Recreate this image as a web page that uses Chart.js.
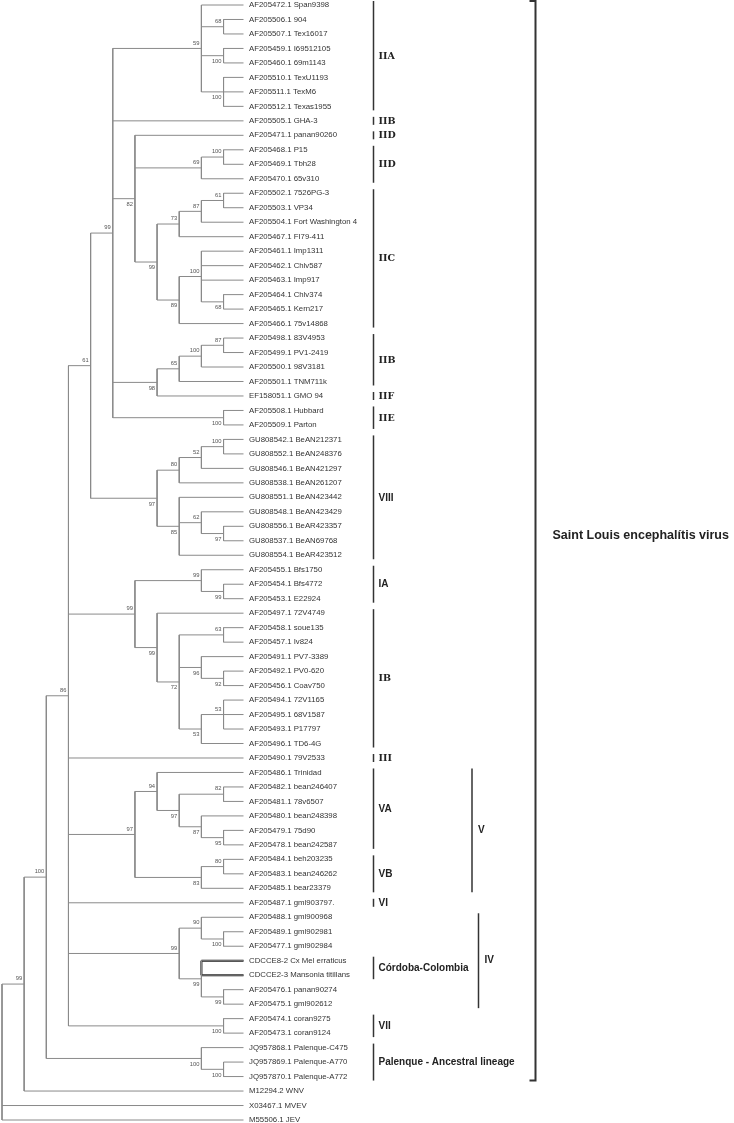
<!DOCTYPE html>
<html>
<head>
<meta charset="utf-8">
<script src="https://cdn.jsdelivr.net/npm/chart.js@4/dist/chart.umd.min.js"></script>
<style>
  body { margin: 0; background: #fff; }
  #wrap { width: 734px; height: 1123px; position: relative; }
</style>
</head>
<body>
<div id="wrap"><canvas id="tree"></canvas></div>
<script>
// leaves, top to bottom
const leafNames = [
  'AF205472.1 Span9398','AF205506.1 904','AF205507.1 Tex16017','AF205459.1 I69512105',
  'AF205460.1 69m1143','AF205510.1 TexU1193','AF205511.1 TexM6','AF205512.1 Texas1955',
  'AF205505.1 GHA-3','AF205471.1 panan90260','AF205468.1 P15','AF205469.1 Tbh28',
  'AF205470.1 65v310','AF205502.1 7526PG-3','AF205503.1 VP34','AF205504.1 Fort Washington 4',
  'AF205467.1 FI79-411','AF205461.1 Imp1311','AF205462.1 Chlv587','AF205463.1 Imp917',
  'AF205464.1 Chlv374','AF205465.1 Kern217','AF205466.1 75v14868','AF205498.1 83V4953',
  'AF205499.1 PV1-2419','AF205500.1 98V3181','AF205501.1 TNM711k','EF158051.1 GMO 94',
  'AF205508.1 Hubbard','AF205509.1 Parton','GU808542.1 BeAN212371','GU808552.1 BeAN248376',
  'GU808546.1 BeAN421297','GU808538.1 BeAN261207','GU808551.1 BeAN423442','GU808548.1 BeAN423429',
  'GU808556.1 BeAR423357','GU808537.1 BeAN69768','GU808554.1 BeAR423512','AF205455.1 Bfs1750',
  'AF205454.1 Bfs4772','AF205453.1 E22924','AF205497.1 72V4749','AF205458.1 soue135',
  'AF205457.1 Iv824','AF205491.1 PV7-3389','AF205492.1 PV0-620','AF205456.1 Coav750',
  'AF205494.1 72V1165','AF205495.1 68V1587','AF205493.1 P17797','AF205496.1 TD6-4G',
  'AF205490.1 79V2533','AF205486.1 Trinidad','AF205482.1 bean246407','AF205481.1 78v6507',
  'AF205480.1 bean248398','AF205479.1 75d90','AF205478.1 bean242587','AF205484.1 beh203235',
  'AF205483.1 bean246262','AF205485.1 bear23379','AF205487.1 gml903797.','AF205488.1 gml900968',
  'AF205489.1 gml902981','AF205477.1 gml902984','CDCCE8-2 Cx Mel erraticus','CDCCE2-3 Mansonia titillans',
  'AF205476.1 panan90274','AF205475.1 gml902612','AF205474.1 coran9275','AF205473.1 coran9124',
  'JQ957868.1 Palenque-C475','JQ957869.1 Palenque-A770','JQ957870.1 Palenque-A772','M12294.2 WNV',
  'X03467.1 MVEV','M55506.1 JEV'
];
// internal node each leaf hangs from
const leafParent = [6,7,7,8,8,9,9,9,5,10, 12,12,11,16,16,15,14,18,18,18, 19,19,17,23,23,22,21,20,24,24,
  28,28,27,26,29,30,31,31,29,33, 34,34,35,37,37,38,39,39,41,41, 41,40,3,43,45,45,46,47,47,49,
  49,48,3,51,52,52,53,53,54,54, 55,55,56,57,57,1,0,0];
// internal nodes: parent, depth level (cladogram), bootstrap
const nodeParent = [-1,0,1,2,3,4,5,6,6,6, 5,10,11,10,13,14,15,13,17,18, 5,20,21,22,5,4,25,26,27,25,
  29,30,3,32,33,32,35,36,36,38, 36,40,3,42,43,44,44,46,42,48, 3,50,51,50,53,3,2,56];
const nodeLevel = [0,1,2,3,4,5,9,10,10,10, 6,9,10,7,8,9,10,8,9,10, 7,8,9,10,10,7,8,9,10,8,
  9,10,6,9,10,7,8,10,9,10, 9,10,6,7,8,10,9,10,9,10, 8,9,10,9,10,10,9,10];
const nodeSupport = [null,99,100,86,61,99,59,68,100,100, 82,69,100,99,73,87,61,89,100,68,
  98,65,100,87,100,97,80,52,100,85, 62,97,99,99,99,99,72,63,96,92,
  53,53,97,94,97,82,87,95,83,80, 99,90,100,99,99,100,100,100];
const TIP_LEVEL = 10.9;
const highlightLeaves = [66, 67];

// clade brackets
const cladeNames = ['IIA','IIB','IID','IID','IIC','IIB','IIF','IIE','VIII','IA','IB','III',
  'VA','VB','VI','Córdoba-Colombia','VII','Palenque - Ancestral lineage'];
const cladeFrom = [0,8,9,10,13,23,27,28,30,39,42,52,53,59,62,66,70,72];
const cladeTo   = [7,8,9,12,22,26,27,29,38,41,51,52,58,61,62,67,71,74];
const groupNames = ['V','IV'];
const groupFrom = [53,63];
const groupTo   = [61,69];
const speciesName = 'Saint Louis encephalítis virus';
const speciesFrom = 0, speciesTo = 74;

// label placement / styles
const supportSide = '-aaaaaaabb' + 'baabaaabab' + 'baaabbaaab' + 'abaabbbabb' + 'baaababbba' + 'aabbbbbb';
const cladeSerif = [1,1,1,1,1,1,1,1,0,0,1,1,0,0,0,0,0,0];

// ---- build tree geometry
const nodeY = [];
function childrenOf(n) {
  const out = [];
  leafParent.forEach((p, i) => { if (p === n) out.push({ x: TIP_LEVEL, y: i }); });
  nodeParent.forEach((p, j) => { if (p === n) out.push({ x: nodeLevel[j], y: yOf(j) }); });
  return out;
}
function yOf(n) {
  if (nodeY[n] === undefined) {
    const ys = childrenOf(n).map(c => c.y);
    nodeY[n] = (Math.min(...ys) + Math.max(...ys)) / 2;
  }
  return nodeY[n];
}
const branchPts = [];
function seg(arr, x1, y1, x2, y2) {
  arr.push({ x: x1, y: y1 }, { x: x2, y: y2 }, { x: null, y: null });
}
nodeParent.forEach((p, n) => {
  const ch = childrenOf(n);
  const ys = ch.map(c => c.y);
  seg(branchPts, nodeLevel[n], Math.min(...ys), nodeLevel[n], Math.max(...ys));
  ch.forEach(c => seg(branchPts, nodeLevel[n], c.y, c.x, c.y));
});
const boldPts = [];
const hlLevel = nodeLevel[leafParent[highlightLeaves[0]]];
seg(boldPts, hlLevel, Math.min(...highlightLeaves), hlLevel, Math.max(...highlightLeaves));
highlightLeaves.forEach(i => seg(boldPts, hlLevel, i, TIP_LEVEL, i));

const treeText = {
  id: 'treeText',
  afterDatasetsDraw(chart) {
    const { ctx, scales: { x, y } } = chart;
    const tipX = x.getPixelForValue(TIP_LEVEL);
    ctx.save();
    ctx.textBaseline = 'middle';

    // leaf names
    ctx.font = '7.8px "Liberation Sans", Arial, sans-serif';
    ctx.fillStyle = '#333';
    ctx.textAlign = 'left';
    leafNames.forEach((name, i) => ctx.fillText(name, tipX + 5.5, y.getPixelForValue(i)));

    // bootstrap values
    ctx.font = '5.8px "Liberation Sans", Arial, sans-serif';
    ctx.fillStyle = '#555';
    ctx.textAlign = 'right';
    nodeSupport.forEach((v, n) => {
      if (v === null) return;
      const px = x.getPixelForValue(nodeLevel[n]) - 2;
      const py = y.getPixelForValue(yOf(n)) + (supportSide[n] === 'a' ? -5.3 : 5.8);
      ctx.fillText(String(v), px, py);
    });

    // clade brackets
    ctx.strokeStyle = '#333';
    ctx.fillStyle = '#222';
    ctx.textAlign = 'left';
    function bar(bx, i0, i1, w) {
      ctx.lineWidth = w;
      ctx.beginPath();
      ctx.moveTo(bx, y.getPixelForValue(i0) - 4);
      ctx.lineTo(bx, y.getPixelForValue(i1) + 4);
      ctx.stroke();
      return (y.getPixelForValue(i0) + y.getPixelForValue(i1)) / 2;
    }
    cladeNames.forEach((name, k) => {
      const mid = bar(tipX + 130, cladeFrom[k], cladeTo[k], 1.5);
      ctx.font = cladeSerif[k] ? 'bold 9.5px "DejaVu Serif", serif' : 'bold 10px "Liberation Sans", Arial, sans-serif';
      ctx.fillText(name, tipX + 135, mid + 0.5);
    });
    groupNames.forEach((name, k) => {
      const bx = tipX + (k === 0 ? 228.5 : 235);
      const mid = bar(bx, groupFrom[k], groupTo[k], 1.5);
      ctx.font = 'bold 10px "Liberation Sans", Arial, sans-serif';
      ctx.fillText(name, bx + 6, mid);
    });

    // species bracket
    const sx = tipX + 292;
    const top = y.getPixelForValue(speciesFrom) - 4;
    const bot = y.getPixelForValue(speciesTo) + 4;
    ctx.lineWidth = 2;
    ctx.beginPath();
    ctx.moveTo(sx - 6, top); ctx.lineTo(sx, top); ctx.lineTo(sx, bot); ctx.lineTo(sx - 6, bot);
    ctx.stroke();
    ctx.font = 'bold 12.5px "Liberation Sans", Arial, sans-serif';
    ctx.fillText(speciesName, tipX + 309, (top + bot) / 2 - 5);
    ctx.restore();
  }
};

new Chart(document.getElementById('tree'), {
  type: 'scatter',
  data: {
    datasets: [{
      data: branchPts,
      showLine: true,
      spanGaps: false,
      borderColor: '#8a8a8a',
      borderWidth: 1,
      pointRadius: 0,
      pointHoverRadius: 0,
      clip: false
    }, {
      data: boldPts,
      showLine: true,
      spanGaps: false,
      borderColor: '#111',
      borderWidth: 2,
      pointRadius: 0,
      pointHoverRadius: 0,
      clip: false
    }]
  },
  options: {
    responsive: true,
    maintainAspectRatio: false,
    animation: false,
    events: [],
    layout: { padding: { left: 2, right: 490.5, top: 5, bottom: 3 } },
    scales: {
      x: { type: 'linear', min: 0, max: TIP_LEVEL, display: false },
      y: { type: 'linear', min: 0, max: 77, reverse: true, display: false }
    },
    plugins: { legend: { display: false }, tooltip: { enabled: false } }
  },
  plugins: [treeText]
});
</script>
</body>
</html>
